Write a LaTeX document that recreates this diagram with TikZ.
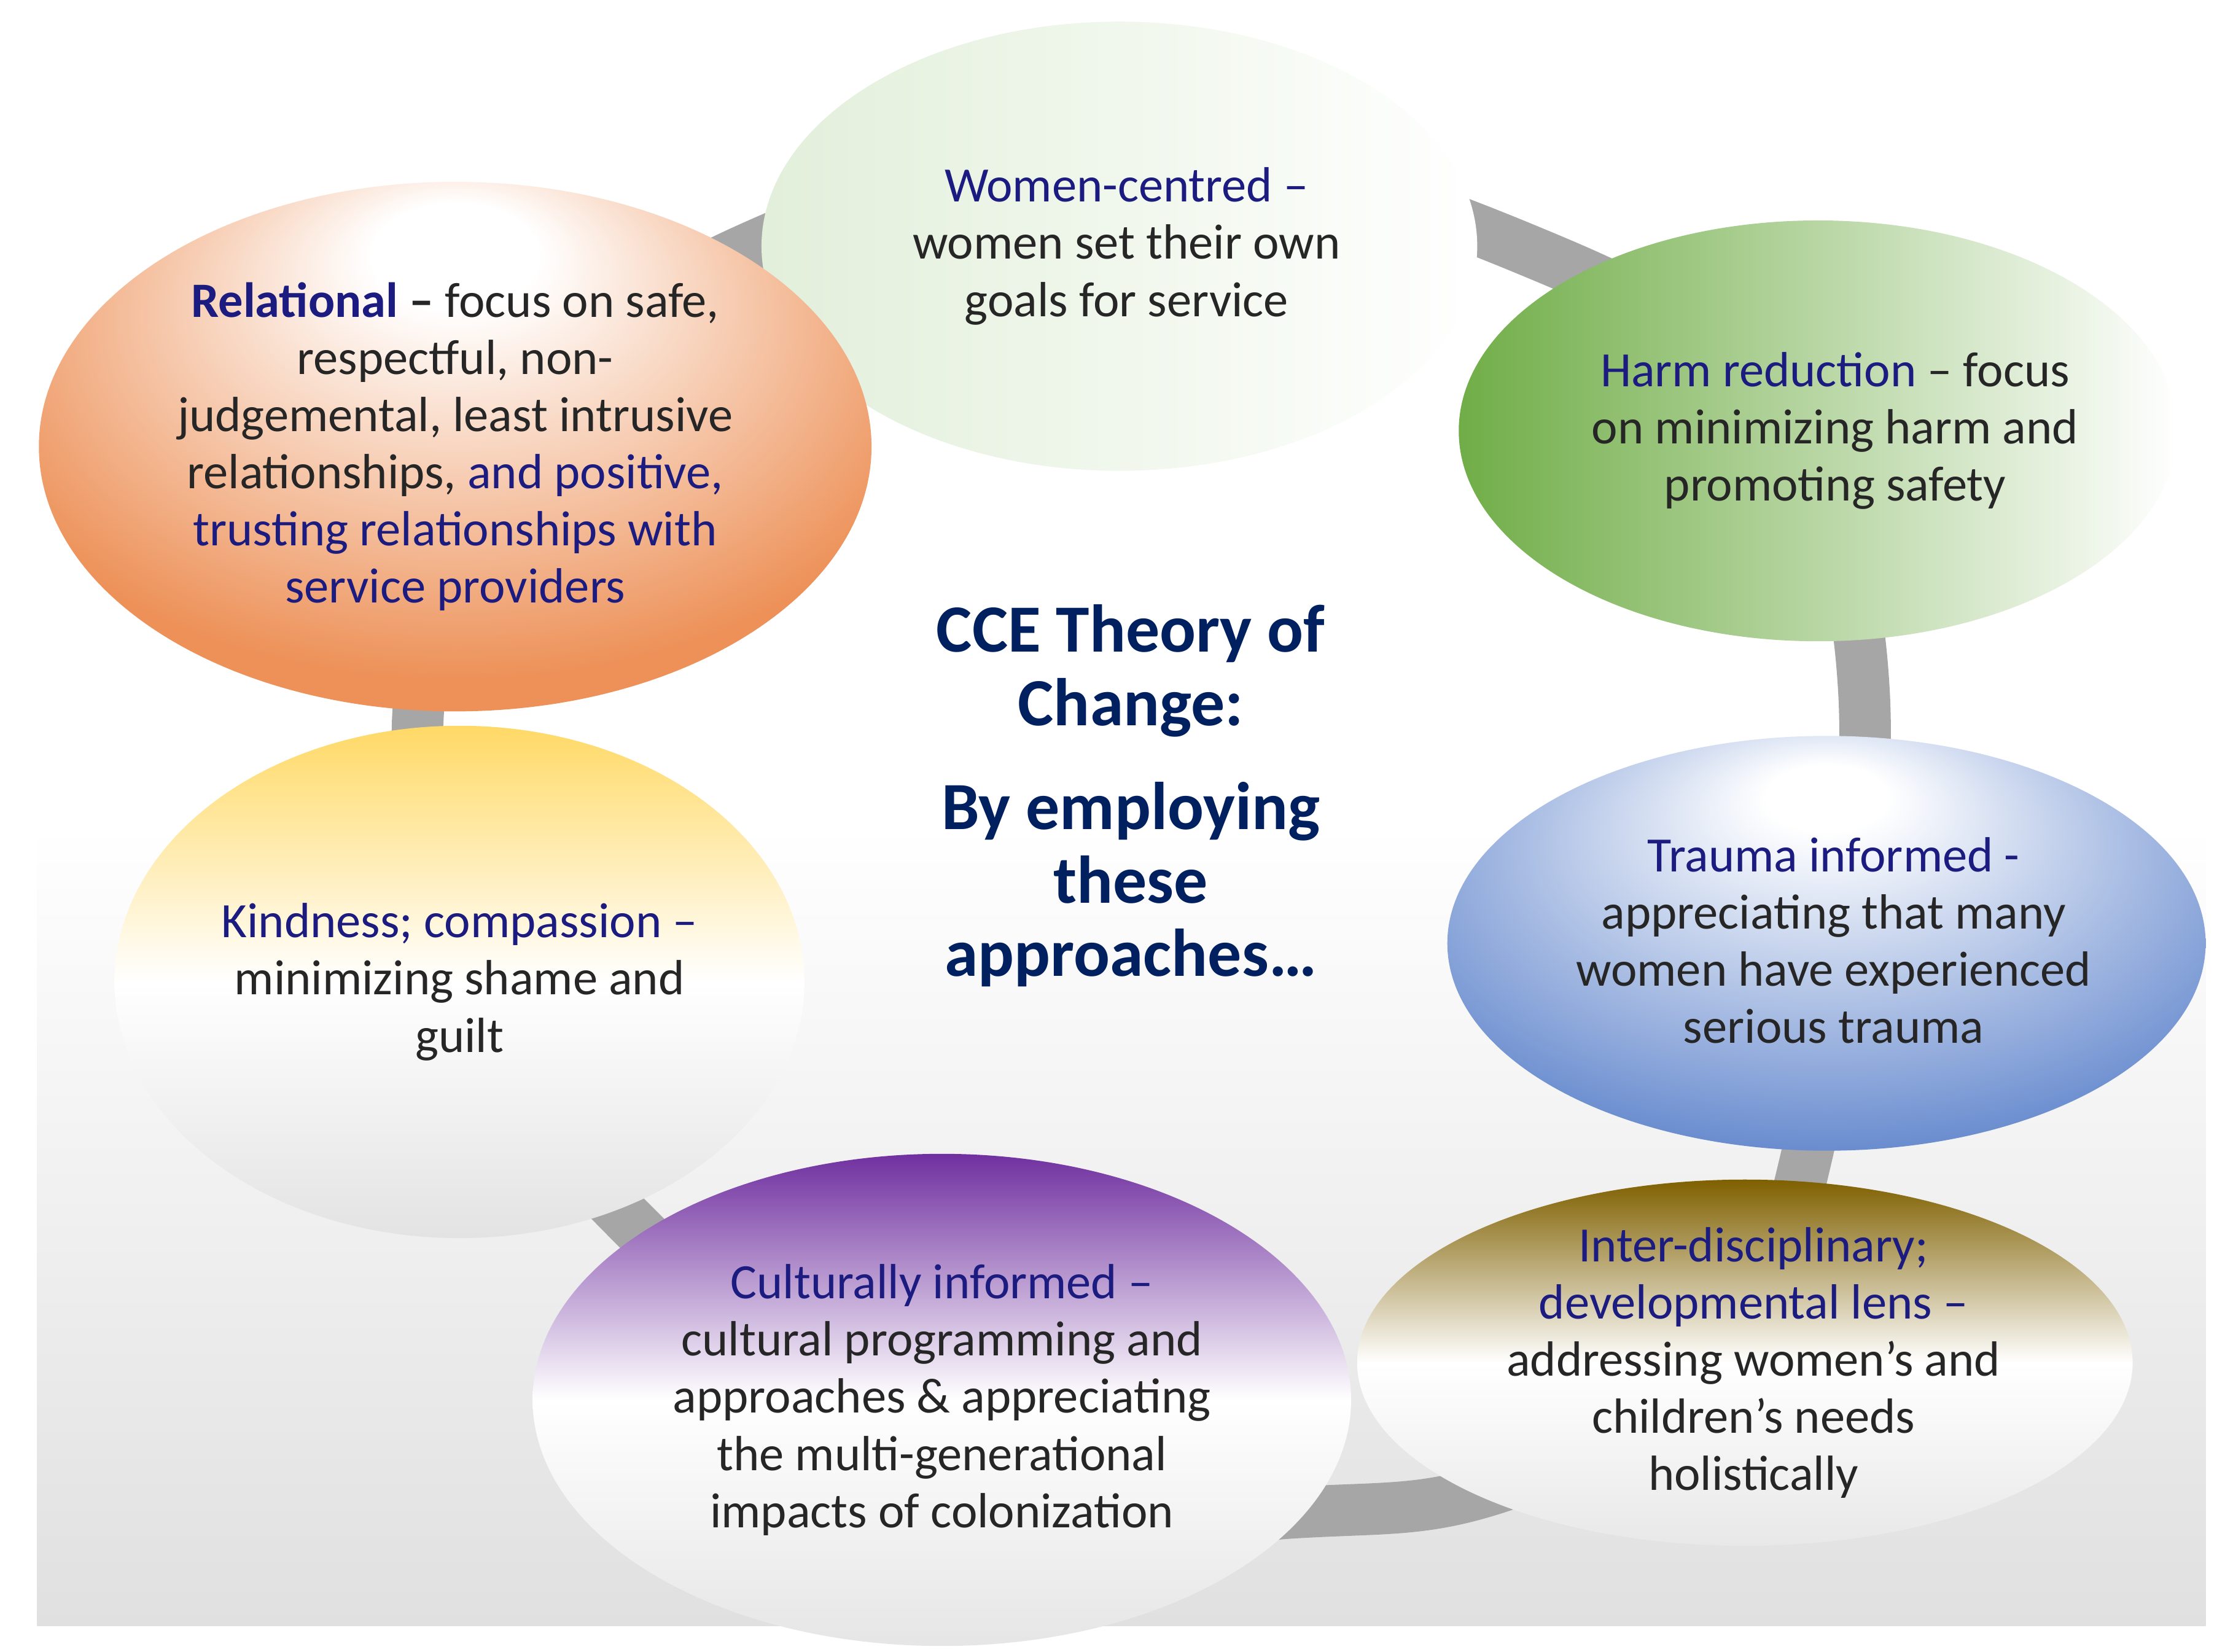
\documentclass[tikz,border=0pt]{standalone}
\usepackage{fontspec}
\setmainfont{Carlito}
\usetikzlibrary{calc,positioning}
\usetikzlibrary{shapes}
\usepackage{xcolor}

\definecolor{keyblue}{RGB}{28,28,128}
\definecolor{titleblue}{RGB}{0,32,96}
\definecolor{bodygray}{RGB}{38,38,38}
\definecolor{ringgray}{RGB}{166,166,166}
\definecolor{bggray}{RGB}{224,224,224}
\definecolor{relorange}{RGB}{237,145,88}
\definecolor{traumablue}{RGB}{105,140,207}
\definecolor{palegreen}{RGB}{226,239,218}
\definecolor{harmgreen}{RGB}{112,173,71}
\definecolor{interbrown}{RGB}{127,96,0}
\definecolor{cultpurple}{RGB}{112,48,160}
\definecolor{kindyellow}{RGB}{255,217,102}

\pgfdeclareradialshading{relglow}{\pgfpoint{0bp}{20bp}}{color(0bp)=(white); color(5bp)=(white); color(30bp)=(relorange); color(50bp)=(relorange)}
\pgfdeclareradialshading{traumaglow}{\pgfpoint{0bp}{19bp}}{color(0bp)=(white); color(4bp)=(white); color(32bp)=(traumablue); color(50bp)=(traumablue)}

\newcommand{\kw}[1]{\textcolor{keyblue}{#1}}

\begin{document}
\begin{tikzpicture}[x=0.0117cm, y=-0.0117cm,
	bub/.style = {ellipse, inner sep=0pt},
	txt/.style = {align=center, text=bodygray, font=\fontsize{11.5}{13.3}\selectfont},
	ring/.style = {draw=ringgray, line width=12pt}]
		\useasboundingbox (0,0) rectangle (1560,1154);
		% grey backdrop
		\shade[top color=white, bottom color=bggray] (26,576) rectangle (1541,1136);
		% loop behind the bubbles
		\draw[ring] plot[smooth cycle, tension=0.7] coordinates {(292,500) (340,700) (440,853) (700,1060) (900,1057) (1050,1038) (1190,960) (1262,808) (1302,480) (1230,290) (1080,180) (800,110) (520,175) (360,310)};
		% bubbles
		\node[bub, left color=palegreen, right color=white, minimum width=166.5pt, minimum height=104.5pt] (women) at (782,172) {};
		\node[bub, shade, shading=relglow, minimum width=193.7pt, minimum height=123.2pt] (rel) at (318,312) {};
		\node[bub, left color=harmgreen, right color=white, minimum width=167.1pt, minimum height=97.9pt] (harm) at (1270,301) {};
		\node[bub, shade, shading=traumaglow, minimum width=176.4pt, minimum height=96.5pt] (trauma) at (1276,659) {};
		\node[bub, top color=interbrown, bottom color=black!9, middle color=white, minimum width=180.4pt, minimum height=85.2pt] (inter) at (1219,952) {};
		\node[bub, top color=cultpurple, bottom color=black!10, middle color=white, minimum width=190.4pt, minimum height=114.5pt] (cult) at (658,978) {};
		\node[bub, top color=kindyellow, bottom color=black!11, middle color=white, minimum width=160.5pt, minimum height=119.2pt] (kind) at (321,686) {};
		% texts
		\node[txt] (womenT) at ($(women)+(5,0)$) {\kw{Women-centred –}\\women set their own\\goals for service};
		\node[txt] (relT) at (rel) {\kw{\textbf{Relational}} \textbf{–} focus on safe,\\respectful, non-\\judgemental, least intrusive\\relationships, \kw{and positive,}\\\kw{trusting relationships with}\\\kw{service providers}};
		\node[txt] (harmT) at ($(harm)+(12,0)$) {\kw{Harm reduction} – focus\\on minimizing harm and\\promoting safety};
		\node[txt] (traumaT) at ($(trauma)+(5,-2)$) {\kw{Trauma informed -}\\appreciating that many\\women have experienced\\serious trauma};
		\node[txt] (interT) at ($(inter)+(6,0)$) {\kw{Inter-disciplinary;}\\\kw{developmental lens –}\\addressing women’s and\\children’s needs\\holistically};
		\node[txt] (cultT) at (cult) {\kw{Culturally informed –}\\cultural programming and\\approaches \& appreciating\\the multi-generational\\impacts of colonization};
		\node[txt] (kindT) at (kind) {\kw{Kindness; compassion –}\\minimizing shame and\\guilt};
		\node[align=center, text=titleblue, font=\bfseries\fontsize{15.7}{17.1}\selectfont] (title) at (790,556) {CCE Theory of\\Change:\\[7pt]By employing\\these\\approaches…};
	\end{tikzpicture}
\end{document}
